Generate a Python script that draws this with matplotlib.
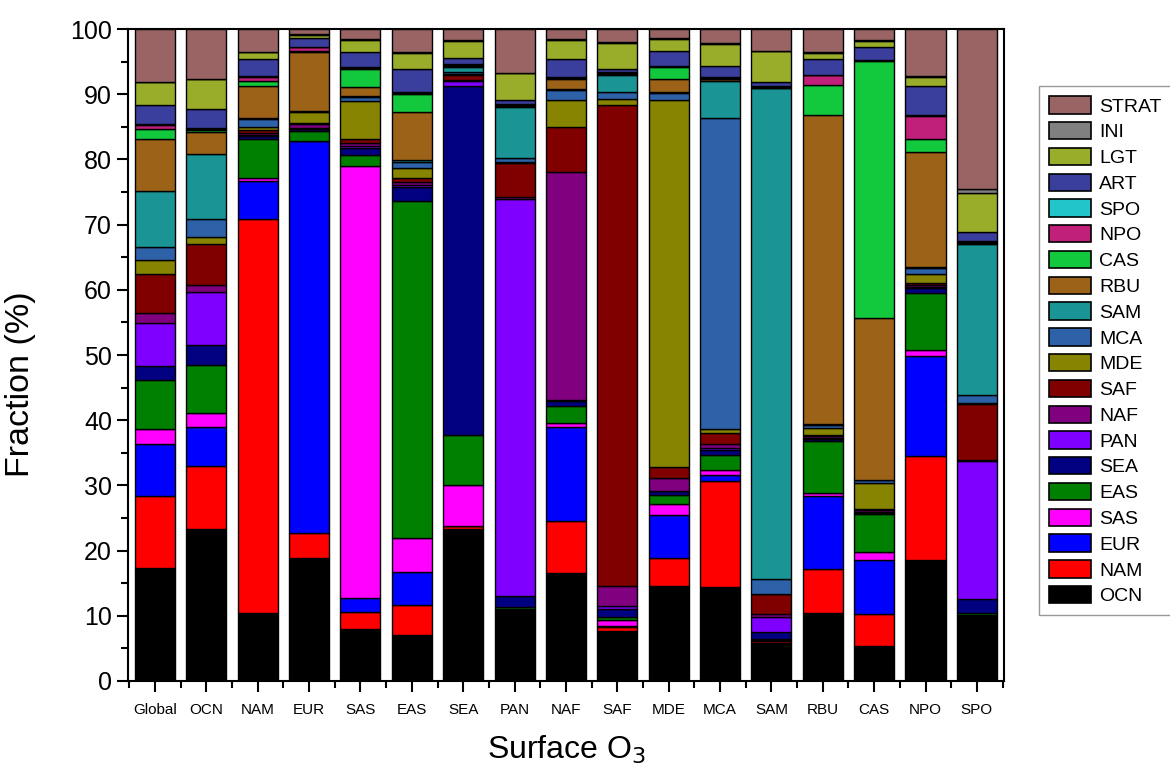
import numpy as np
import matplotlib.pyplot as plt
from matplotlib.patches import Patch
from matplotlib.ticker import MultipleLocator, FixedLocator

plt.rcParams['font.family'] = ['Liberation Sans', 'DejaVu Sans']

regions = ['Global', 'OCN', 'NAM', 'EUR', 'SAS', 'EAS', 'SEA', 'PAN', 'NAF',
           'SAF', 'MDE', 'MCA', 'SAM', 'RBU', 'CAS', 'NPO', 'SPO']

# contribution of each source (%) per receptor region, bottom to top
OCN   = [17.4, 23.3, 10.5, 18.9, 8.0, 7.1, 23.3, 10.6, 16.5, 7.7, 14.6, 14.4, 5.9, 10.4, 5.4, 18.6, 9.7]
NAM   = [11.0, 9.7, 60.4, 3.8, 2.6, 4.6, 0.4, 0.2, 8.0, 0.6, 4.2, 16.3, 0.2, 6.7, 4.8, 15.9, 0.1]
EUR   = [7.9, 5.9, 5.8, 60.1, 2.2, 5.0, 0.1, 0.1, 14.4, 0.2, 6.7, 0.9, 0.1, 11.3, 8.3, 15.3, 0.1]
SAS   = [2.3, 2.2, 0.4, 0.1, 66.2, 5.2, 6.2, 0.1, 0.7, 0.9, 1.6, 0.8, 0.1, 0.5, 1.3, 0.9, 0.2]
EAS   = [7.5, 7.3, 6.1, 1.5, 1.7, 51.7, 7.8, 0.3, 2.6, 0.4, 1.5, 2.3, 0.1, 7.9, 5.8, 8.8, 0.3]
SEA   = [2.2, 3.1, 0.4, 0.2, 1.1, 2.2, 53.4, 1.8, 0.8, 1.2, 0.5, 0.8, 1.1, 0.3, 0.2, 0.8, 2.2]
PAN   = [6.6, 8.2, 0.2, 0.2, 0.3, 0.2, 0.8, 60.9, 0.1, 0.5, 0.1, 0.2, 2.3, 0.1, 0.1, 0.1, 21.1]
NAF   = [1.5, 1.0, 0.3, 0.7, 0.4, 0.5, 0.2, 0.2, 35.0, 3.1, 2.0, 0.6, 0.5, 0.3, 0.3, 0.3, 0.2]
SAF   = [6.0, 6.3, 0.4, 0.1, 0.7, 0.6, 0.7, 5.2, 6.8, 73.8, 1.6, 1.8, 3.0, 0.2, 0.2, 0.4, 8.6]
MDE   = [2.1, 1.1, 0.5, 1.6, 5.8, 1.6, 0.2, 0.2, 4.2, 0.9, 56.3, 0.5, 0.1, 1.1, 3.9, 1.4, 0.1]
MCA   = [2.0, 2.7, 1.2, 0.2, 0.6, 0.9, 0.3, 0.6, 1.5, 1.0, 1.1, 47.8, 2.2, 0.5, 0.5, 0.9, 1.2]
SAM   = [8.7, 10.1, 0.1, 0.1, 0.2, 0.3, 0.8, 7.8, 0.2, 2.6, 0.2, 5.6, 75.3, 0.1, 0.1, 0.1, 23.3]
RBU   = [7.9, 3.3, 5.0, 8.9, 1.3, 7.3, 0.2, 0.2, 1.5, 0.2, 1.9, 0.3, 0.1, 47.4, 24.8, 17.6, 0.1]
CAS   = [1.5, 0.3, 0.7, 0.3, 2.8, 2.9, 0.1, 0.1, 0.2, 0.1, 1.9, 0.1, 0.1, 4.6, 39.4, 2.1, 0.1]
NPO   = [0.7, 0.2, 0.7, 0.5, 0.1, 0.1, 0.1, 0.1, 0.1, 0.1, 0.1, 0.1, 0.1, 1.5, 0.1, 3.5, 0.1]
SPO   = [0.1, 0.1, 0.1, 0.1, 0.1, 0.1, 0.1, 0.1, 0.1, 0.1, 0.1, 0.1, 0.1, 0.1, 0.1, 0.1, 0.1]
ART   = [3.0, 3.0, 2.6, 1.3, 2.3, 3.6, 0.8, 0.6, 2.7, 0.5, 2.3, 1.8, 0.5, 2.4, 1.9, 4.5, 1.3]
LGT   = [3.4, 4.5, 1.0, 0.5, 1.9, 2.4, 2.7, 4.1, 2.9, 4.0, 1.8, 3.3, 4.8, 0.9, 1.0, 1.4, 6.1]
INI   = [0.1, 0.1, 0.1, 0.1, 0.1, 0.1, 0.1, 0.1, 0.1, 0.1, 0.1, 0.1, 0.1, 0.1, 0.1, 0.1, 0.5]
STRAT = [8.1, 7.6, 3.5, 0.8, 1.6, 3.6, 1.7, 6.7, 1.6, 2.0, 1.4, 2.2, 3.3, 3.6, 1.7, 7.2, 24.6]

sources = ['OCN', 'NAM', 'EUR', 'SAS', 'EAS', 'SEA', 'PAN', 'NAF', 'SAF', 'MDE',
           'MCA', 'SAM', 'RBU', 'CAS', 'NPO', 'SPO', 'ART', 'LGT', 'INI', 'STRAT']
values = [OCN, NAM, EUR, SAS, EAS, SEA, PAN, NAF, SAF, MDE,
          MCA, SAM, RBU, CAS, NPO, SPO, ART, LGT, INI, STRAT]
colors = ['#000000', '#ff0000', '#0000ff', '#ff00ff', '#008000', '#000080',
          '#8000ff', '#800080', '#800000', '#868400', '#2d62a8', '#1a9494',
          '#9c6318', '#12c83c', '#c0207a', '#22c5c9', '#3a3f9e', '#9aad2b',
          '#808080', '#9a6464']

fig = plt.figure(figsize=(11.7, 7.72), dpi=100)
ax = fig.add_axes([0.1094, 0.1179, 0.7486, 0.8445])

x = np.arange(1, len(regions) + 1)
bottom = np.zeros(len(regions))
for name, vals, c in zip(sources, values, colors):
    vals = np.array(vals)
    ax.bar(x, vals, width=0.78, bottom=bottom, color=c, edgecolor='black',
           linewidth=1.0, label=name)
    bottom += vals

ax.set_xlim(0.475, 17.525)
ax.set_ylim(0, 100)
ax.set_xticks(x)
ax.set_xticklabels(regions, fontsize=11)
ax.xaxis.set_minor_locator(FixedLocator(np.arange(0.5, 18, 1)))
ax.yaxis.set_major_locator(MultipleLocator(10))
ax.yaxis.set_minor_locator(MultipleLocator(5))
ax.tick_params(axis='y', which='major', labelsize=18, length=8, width=1.5, direction='out')
ax.tick_params(axis='y', which='minor', length=5, width=1.5, direction='out')
ax.tick_params(axis='x', which='major', length=8, width=1.5, direction='out', pad=8)
ax.tick_params(axis='x', which='minor', length=5, width=1.5, direction='out')
for s in ax.spines.values():
    s.set_linewidth(1.5)

ax.set_ylabel('Fraction (%)', fontsize=24.5)
ax.yaxis.set_label_coords(-0.105, 0.455)
ax.set_xlabel('Surface O$_3$', fontsize=23, labelpad=12)

handles = [Patch(facecolor=c, edgecolor='black', linewidth=1.2, label=n)
           for n, c in zip(sources, colors)][::-1]
fig.legend(handles=handles, loc='upper left', bbox_to_anchor=(0.888, 0.888),
           fontsize=14, frameon=True, fancybox=False, edgecolor='#808080',
           handlelength=2.2, handleheight=1.0, labelspacing=0.33,
           handletextpad=0.4, borderpad=0.5, borderaxespad=0)

fig.savefig('out.png', dpi=100)
